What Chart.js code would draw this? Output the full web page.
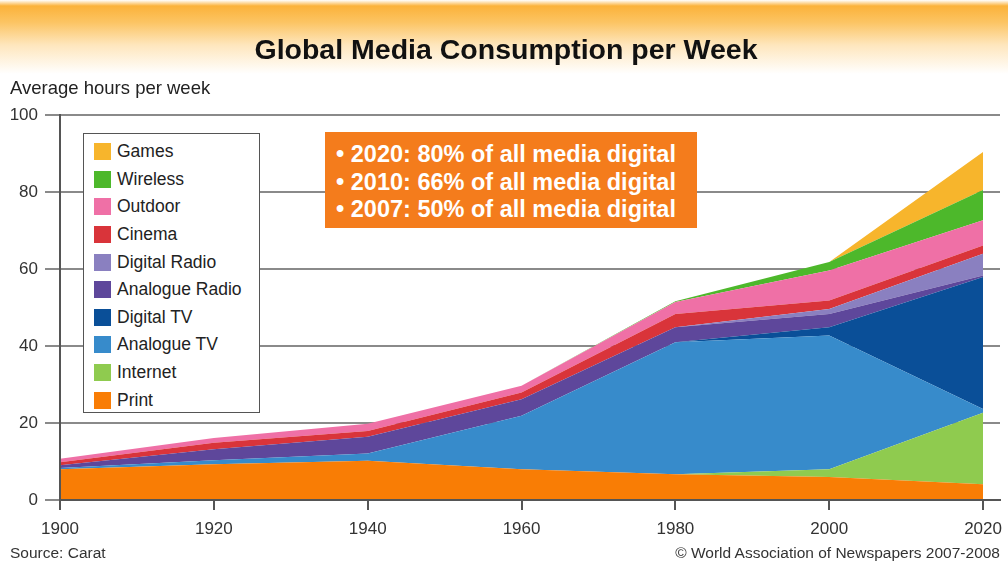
<!DOCTYPE html>
<html>
<head>
<meta charset="utf-8">
<script src="https://cdn.jsdelivr.net/npm/chart.js@4.4.1/dist/chart.umd.min.js"></script>
<style>
  body { margin: 0; background: #fff; }
  #wrap {
    position: relative; width: 1008px; height: 567px; overflow: hidden;
    font-family: "Liberation Sans", Arial, sans-serif; color: #222;
    background: linear-gradient(to bottom, #fff 0px, #fbb23a 6px, #fcc462 22px, #fee6bd 45px, #fff 74px);
  }
  #chart { position: absolute; left: 0; top: 0; }
  #title { position: absolute; left: 0; width: 1012px; top: 33px; text-align: center; font-weight: bold; font-size: 28.5px; color: #111; }
  #ylab { position: absolute; left: 10px; top: 77px; font-size: 18.5px; color: #222; }
  #note {
    position: absolute; left: 325px; top: 132px; width: 372px; height: 96px;
    background: #f47c1c; color: #fff; font-weight: bold; font-size: 23.5px;
    box-sizing: border-box; padding: 9px 0 0 11px; line-height: 27.5px; white-space: nowrap;
  }
  #legend {
    position: absolute; left: 83px; top: 133px; width: 177px; height: 280px;
    background: #fff; border: 1.5px solid #555; box-sizing: border-box; padding-top: 4px;
  }
  .item { height: 27.6px; display: flex; align-items: center; font-size: 17.5px; color: #222; white-space: nowrap; }
  .sw { width: 17px; height: 17px; margin: 0 6px 0 10px; flex: none; }
  #src { position: absolute; left: 10px; top: 544px; font-size: 15.5px; color: #333; }
  #copy { position: absolute; right: 8px; top: 544px; font-size: 15.5px; color: #333; }
</style>
</head>
<body>
<div id="wrap">
  <canvas id="chart" width="1008" height="567"></canvas>
  <div id="title">Global Media Consumption per Week</div>
  <div id="ylab">Average hours per week</div>
  <div id="legend"></div>
  <div id="note">
    • 2020: 80% of all media digital<br>
    • 2010: 66% of all media digital<br>
    • 2007: 50% of all media digital
  </div>
  <div id="src">Source: Carat</div>
  <div id="copy">© World Association of Newspapers 2007-2008</div>
</div>
<script>
// hours per week, each layer on its own (stacked bottom to top)
const years = [1900, 1920, 1940, 1960, 1980, 2000, 2020];
const print         = [8.0, 9.3, 10.2, 8.0, 6.7, 6.0, 4.1];
const internet      = [0, 0, 0, 0, 0, 2.0, 18.6];
const analogueTV    = [0.3, 1.0, 1.9, 13.9, 34.3, 34.7, 0.9];
const digitalTV     = [0, 0, 0, 0, 0, 2.2, 34.3];
const analogueRadio = [0.7, 2.9, 4.3, 4.3, 3.9, 3.4, 0.4];
const digitalRadio  = [0, 0, 0, 0, 0, 1.3, 5.7];
const cinema        = [0.8, 1.7, 1.5, 1.7, 3.4, 2.2, 2.1];
const outdoor       = [0.9, 1.2, 1.9, 1.8, 3.1, 7.8, 6.6];
const wireless      = [0, 0, 0, 0, 0.2, 2.2, 7.8];
const games         = [0, 0, 0, 0, 0, 0, 9.9];

const names  = ['Print', 'Internet', 'Analogue TV', 'Digital TV', 'Analogue Radio', 'Digital Radio', 'Cinema', 'Outdoor', 'Wireless', 'Games'];
const series = [print, internet, analogueTV, digitalTV, analogueRadio, digitalRadio, cinema, outdoor, wireless, games];
const colors = ['#f97d05', '#8fcb4f', '#378bcb', '#0a4f98', '#5e479b', '#8a80c0', '#d9343a', '#ef70a6', '#4db82b', '#f7b52c'];

const datasets = series.map((vals, i) => ({
  label: names[i],
  data: vals.map((v, j) => ({ x: years[j], y: v })),
  backgroundColor: colors[i],
  borderColor: 'transparent',
  borderWidth: 0,
  pointRadius: 0,
  tension: 0,
  fill: i === 0 ? 'origin' : '-1'
}));

// legend, top entry = top layer
const legend = document.getElementById('legend');
for (let i = names.length - 1; i >= 0; i--) {
  const row = document.createElement('div');
  row.className = 'item';
  row.innerHTML = '<span class="sw" style="background:' + colors[i] + '"></span>' + names[i];
  legend.appendChild(row);
}

new Chart(document.getElementById('chart'), {
  type: 'line',
  data: { datasets },
  options: {
    responsive: false,
    animation: false,
    layout: { padding: { top: 115, right: 8, left: 0, bottom: 0 } },
    plugins: { legend: { display: false }, tooltip: { enabled: false } },
    scales: {
      x: {
        type: 'linear', min: 1900, max: 2022.2,
        afterBuildTicks: s => { s.ticks = years.filter(y => y % 20 === 0).map(y => ({ value: y })); },
        afterFit: s => { s.height = 67; s.paddingRight = 0; s.paddingLeft = 0; },
        ticks: { stepSize: 20, includeBounds: false, autoSkip: false, color: '#333', font: { size: 17, family: 'Liberation Sans' }, padding: 9, callback: v => String(v), maxRotation: 0 },
        grid: { drawOnChartArea: false, tickLength: 10, color: '#555', lineWidth: 2 },
        border: { color: '#555', width: 2, z: 1 }
      },
      y: {
        stacked: true, min: 0, max: 100,
        afterFit: s => { s.width = 60; },
        ticks: { stepSize: 20, color: '#333', font: { size: 17, family: 'Liberation Sans' }, padding: 7 },
        grid: { color: '#8a8a8a', lineWidth: 2, tickLength: 15 },
        border: { color: '#555', width: 2, z: 1 }
      }
    }
  }
});
</script>
</body>
</html>
